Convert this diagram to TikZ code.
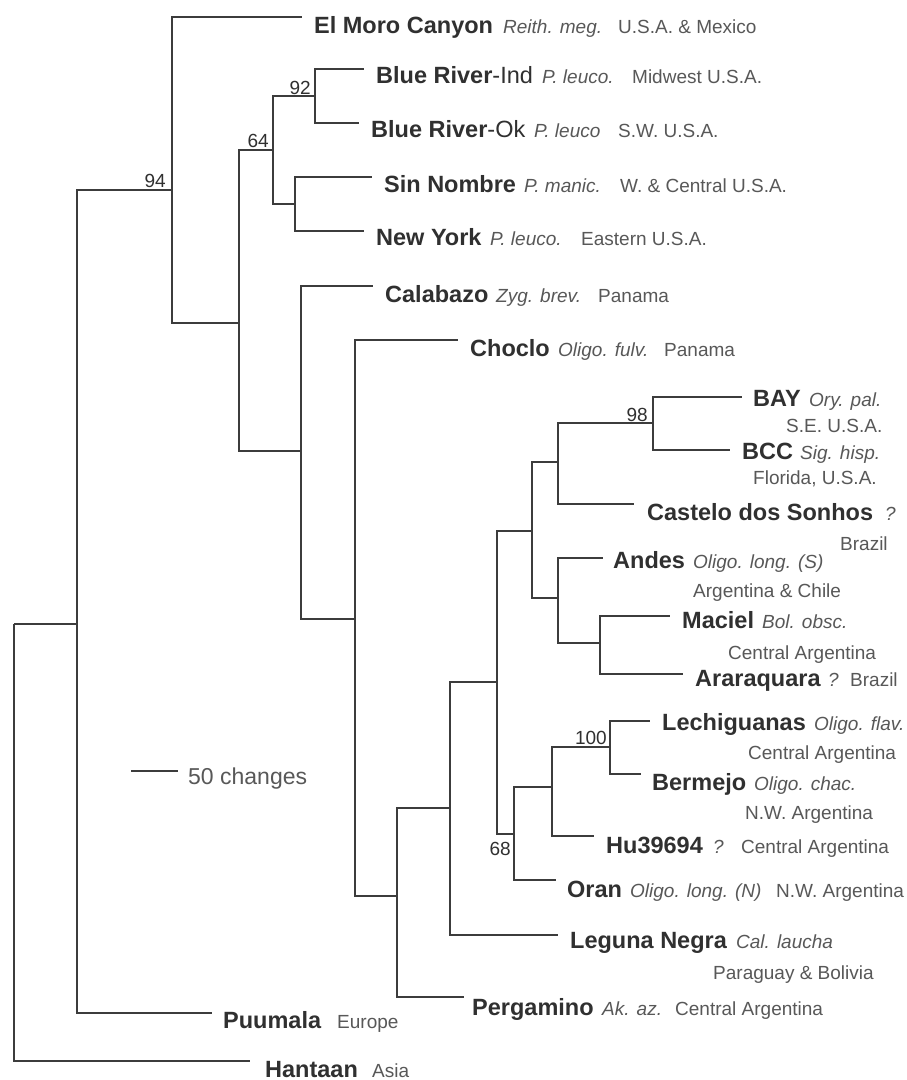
\documentclass[tikz,border=0pt]{standalone}
\usepackage{fontspec}
\setmainfont{Liberation Sans}
\definecolor{linec}{HTML}{3C3C3C}
\definecolor{boldc}{HTML}{303030}
\definecolor{grayc}{HTML}{585858}
\tikzset{
  br/.style={draw=linec, line width=1.7pt},
  nm/.style={anchor=base west, inner sep=0pt, text=boldc, font=\fontsize{23.5}{26}\selectfont\bfseries},
  spc/.style={anchor=base west, inner sep=0pt, text=grayc, font=\fontsize{19}{22}\selectfont\itshape},
  geo/.style={anchor=base west, inner sep=0pt, text=grayc, font=\fontsize{19}{22}\selectfont},
  bsv/.style={anchor=base east, inner sep=0pt, text=boldc, font=\fontsize{19}{22}\selectfont},
}
\begin{document}
\begin{tikzpicture}[x=1pt,y=-1pt]
\useasboundingbox[fill=white] (0,0) rectangle (907,1080);
% internal nodes
\coordinate (R) at (14,624);
\coordinate (A) at (77,624);
\coordinate (B) at (172,190);
\coordinate (C) at (239,323);
\coordinate (D) at (273,150);
\coordinate (E) at (315,96);
\coordinate (F) at (295,204);
\coordinate (G) at (301,451);
\coordinate (H) at (355,619);
\coordinate (I) at (397,896);
\coordinate (J) at (450,808);
\coordinate (K) at (497,682);
\coordinate (L) at (532,531);
\coordinate (N) at (558,462);
\coordinate (P) at (653,423);
\coordinate (O) at (558,598);
\coordinate (Q) at (600,643);
\coordinate (M) at (514,834);
\coordinate (S) at (552,787);
\coordinate (T) at (610,747);
% leaf line ends
\coordinate (elmoro) at (302,17);
\coordinate (brind) at (364,69);
\coordinate (brok) at (359,123);
\coordinate (sinn) at (372,177);
\coordinate (ny) at (364,231);
\coordinate (cala) at (373,286);
\coordinate (choc) at (458,340);
\coordinate (bay) at (742,397);
\coordinate (bcc) at (730,450);
\coordinate (cast) at (634,504);
\coordinate (andes) at (603,558);
\coordinate (mac) at (670,616);
\coordinate (arar) at (683,674);
\coordinate (lech) at (650,721);
\coordinate (berm) at (641,774);
\coordinate (hu) at (594,836);
\coordinate (oran) at (556,880);
\coordinate (legu) at (558,935);
\coordinate (perg) at (464,997);
\coordinate (puu) at (212,1013);
\coordinate (hant) at (250,1061);
% branches
\draw[br] (R) |- (A);
\draw[br] (R) |- (hant);
\draw[br] (A) |- (B);
\draw[br] (A) |- (puu);
\draw[br] (B) |- (elmoro);
\draw[br] (B) |- (C);
\draw[br] (C) |- (D);
\draw[br] (C) |- (G);
\draw[br] (D) |- (E);
\draw[br] (D) |- (F);
\draw[br] (E) |- (brind);
\draw[br] (E) |- (brok);
\draw[br] (F) |- (sinn);
\draw[br] (F) |- (ny);
\draw[br] (G) |- (cala);
\draw[br] (G) |- (H);
\draw[br] (H) |- (choc);
\draw[br] (H) |- (I);
\draw[br] (I) |- (J);
\draw[br] (I) |- (perg);
\draw[br] (J) |- (K);
\draw[br] (J) |- (legu);
\draw[br] (K) |- (L);
\draw[br] (K) |- (M);
\draw[br] (L) |- (N);
\draw[br] (L) |- (O);
\draw[br] (N) |- (P);
\draw[br] (N) |- (cast);
\draw[br] (P) |- (bay);
\draw[br] (P) |- (bcc);
\draw[br] (O) |- (andes);
\draw[br] (O) |- (Q);
\draw[br] (Q) |- (mac);
\draw[br] (Q) |- (arar);
\draw[br] (M) |- (S);
\draw[br] (M) |- (oran);
\draw[br] (S) |- (T);
\draw[br] (S) |- (hu);
\draw[br] (T) |- (lech);
\draw[br] (T) |- (berm);
% support values
\node[bsv] (v94) at (166,187) {94};
\node[bsv] (v92) at (311,94) {92};
\node[bsv] (v64) at (269,147) {64};
\node[bsv] (v98) at (648,421) {98};
\node[bsv] (v100) at (607,744) {100};
\node[bsv] (v68) at (511,855) {68};
% labels
\node[nm] (t1) at (314,33) {El Moro Canyon};
\node[spc] (s1) at (503,33) {Reith. meg.};
\node[geo] (g1) at (618,33) {U.S.A. \& Mexico};

\node[nm] (t2) at (376,83) {Blue River{\mdseries -Ind}};
\node[spc] (s2) at (542,83) {P. leuco.};
\node[geo] (g2) at (632,83) {Midwest U.S.A.};

\node[nm] (t3) at (371,137) {Blue River{\mdseries -Ok}};
\node[spc] (s3) at (534,137) {P. leuco};
\node[geo] (g3) at (618,137) {S.W. U.S.A.};

\node[nm] (t4) at (384,192) {Sin Nombre};
\node[spc] (s4) at (524,192) {P. manic.};
\node[geo] (g4) at (620,192) {W. \& Central U.S.A.};

\node[nm] (t5) at (376,245) {New York};
\node[spc] (s5) at (490,245) {P. leuco.};
\node[geo] (g5) at (581,245) {Eastern U.S.A.};

\node[nm] (t6) at (385,302) {Calabazo};
\node[spc] (s6) at (496,302) {Zyg. brev.};
\node[geo] (g6) at (598,302) {Panama};

\node[nm] (t7) at (470,356) {Choclo};
\node[spc] (s7) at (558,356) {Oligo. fulv.};
\node[geo] (g7) at (664,356) {Panama};

\node[nm] (t8) at (753,406) {BAY};
\node[spc] (s8) at (809,406) {Ory. pal.};
\node[geo] (g8) at (786,432) {S.E. U.S.A.};

\node[nm] (t9) at (742,459) {BCC};
\node[spc] (s9) at (800,459) {Sig. hisp.};
\node[geo] (g9) at (753,484) {Florida, U.S.A.};

\node[nm] (t10) at (647,520) {Castelo dos Sonhos};
\node[spc] (s10) at (885,520) {?};
\node[geo] (g10) at (840,550) {Brazil};

\node[nm] (t11) at (613,568) {Andes};
\node[spc] (s11) at (693,568) {Oligo. long. (S)};
\node[geo] (g11) at (693,597) {Argentina \& Chile};

\node[nm] (t12) at (682,628) {Maciel};
\node[spc] (s12) at (762,628) {Bol. obsc.};
\node[geo] (g12) at (728,659) {Central Argentina};

\node[nm] (t13) at (695,686) {Araraquara};
\node[spc] (s13) at (828,686) {?};
\node[geo] (g13) at (850,686) {Brazil};

\node[nm] (t14) at (662,730) {Lechiguanas};
\node[spc] (s14) at (814,730) {Oligo. flav.};
\node[geo] (g14) at (748,759) {Central Argentina};

\node[nm] (t15) at (652,790) {Bermejo};
\node[spc] (s15) at (754,790) {Oligo. chac.};
\node[geo] (g15) at (745,819) {N.W. Argentina};

\node[nm] (t16) at (606,853) {Hu39694};
\node[spc] (s16) at (713,853) {?};
\node[geo] (g16) at (741,853) {Central Argentina};

\node[nm] (t17) at (567,897) {Oran};
\node[spc] (s17) at (630,897) {Oligo. long. (N)};
\node[geo] (g17) at (776,897) {N.W. Argentina};

\node[nm] (t18) at (570,948) {Leguna Negra};
\node[spc] (s18) at (736,948) {Cal. laucha};
\node[geo] (g18) at (713,979) {Paraguay \& Bolivia};

\node[nm] (t19) at (472,1015) {Pergamino};
\node[spc] (s19) at (602,1015) {Ak. az.};
\node[geo] (g19) at (675,1015) {Central Argentina};

\node[nm] (t20) at (223,1028) {Puumala};
\node[geo] (g20) at (337,1028) {Europe};

\node[nm] (t21) at (265,1077) {Hantaan};
\node[geo] (g21) at (372,1077) {Asia};

% scale bar
\coordinate (sb1) at (131,771);
\coordinate (sb2) at (178,771);
\draw[br] (sb1) -- (sb2);
\node[geo, font=\fontsize{23}{26}\selectfont] (sbt) at (188,784) {50 changes};
\end{tikzpicture}
\end{document}
